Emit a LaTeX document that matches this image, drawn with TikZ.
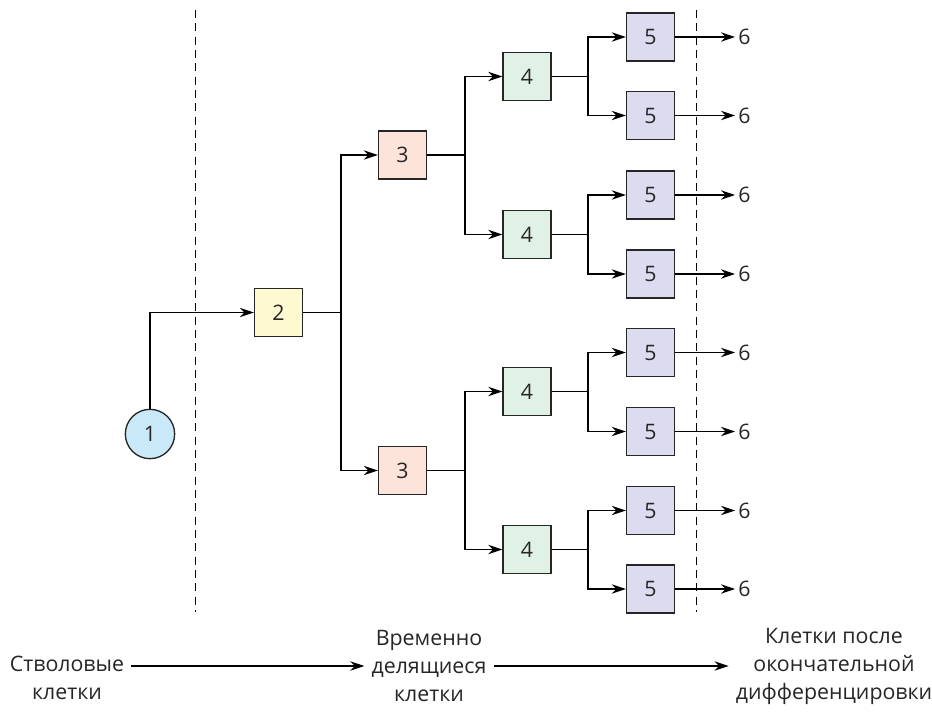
\documentclass[tikz,border=0pt]{standalone}
\usepackage{fontspec}
\setmainfont{Open Sans}
\usetikzlibrary{positioning}
\usetikzlibrary{arrows.meta}

\definecolor{stemblue}{HTML}{C9E9F8}
\definecolor{cellyellow}{HTML}{FEF9D0}
\definecolor{cellpeach}{HTML}{FDE4DA}
\definecolor{cellmint}{HTML}{E0F1E6}
\definecolor{celllilac}{HTML}{DDDBF0}

\begin{document}
\begin{tikzpicture}[x=0.75pt,y=-0.75pt,
    >={Stealth[length=10.5pt,width=7pt]},
    line width=1pt, font=\fontsize{16}{21}\selectfont]
    \tikzset{cell/.style = {rectangle, draw=black!85, minimum size=36pt,
                           inner sep=0pt, text=black!85}}
    \tikzset{stem/.style = {circle, draw=black!85, fill=stemblue,
                           minimum size=37pt, inner sep=0pt, text=black!85}}
    \tikzset{div2/.style = {cell, fill=cellyellow}}
    \tikzset{div3/.style = {cell, fill=cellpeach}}
    \tikzset{div4/.style = {cell, fill=cellmint}}
    \tikzset{div5/.style = {cell, fill=celllilac}}
    \tikzset{final/.style = {anchor=west, inner sep=2pt, text=black!85}}
    \tikzset{stage/.style = {align=center, inner sep=5pt, text=black!85}}
    \tikzset{border/.style = {dashed, line width=0.75pt, dash pattern=on 6pt off 4pt}}

    \useasboundingbox (0,0) rectangle (932,716);

    % dividing lines
    \draw[border] (195,10) -- (195,612);
    \draw[border] (696,10) -- (696,612);

    \node (C1) [stem] at (150,434) {1};
    \node (C2) [div2] at (278.5,312.5) {2};
    \node (C3a) [div3] at (402.5,155) {3};
    \node (C3b) [div3] at (402.5,470.5) {3};
    \node (C4a) [div4] at (527,76.5) {4};
    \node (C4b) [div4] at (527,234.5) {4};
    \node (C4c) [div4] at (527,391.5) {4};
    \node (C4d) [div4] at (527,549.5) {4};

    % split points
    \coordinate (S2) at (341,312.5);
    \coordinate (S3a) at (465,155);
    \coordinate (S3b) at (465,470.5);

    \draw[->] (C1) |- (C2);
    \draw (C2) -- (S2);
    \draw[->] (S2) |- (C3a);
    \draw[->] (S2) |- (C3b);
    \draw (C3a) -- (S3a);
    \draw (C3b) -- (S3b);
    \draw[->] (S3a) |- (C4a);
    \draw[->] (S3a) |- (C4b);
    \draw[->] (S3b) |- (C4c);
    \draw[->] (S3b) |- (C4d);

    % last division and differentiated cells
    \foreach \i/\up/\dn in {a/37/115.5, b/195/274, c/352.5/431.5, d/510.5/589}{
        \coordinate (S4\i) at (588,0 |- C4\i);
        \draw (C4\i) -- (S4\i);
        \node (C5\i u) [div5] at (650.5,\up) {5};
        \node (C5\i d) [div5] at (650.5,\dn) {5};
        \draw[->] (S4\i) |- (C5\i u);
        \draw[->] (S4\i) |- (C5\i d);
        \node (C6\i u) [final] at (735,\up) {6};
        \node (C6\i d) [final] at (735,\dn) {6};
        \draw[->] (C5\i u) -- (C6\i u);
        \draw[->] (C5\i d) -- (C6\i d);
    }

    % stages
    \node (L1) [stage] at (67,678) {Стволовые\\клетки};
    \node (L2) [stage] at (429,666) {Временно\\делящиеся\\клетки};
    \node (L3) [stage] at (834,666) {Клетки после\\окончательной\\дифференцировки};
    \draw[->] (L1.east |- L2.west) -- (L2.west);
    \draw[->] (L2.east) -- (L3.west);

\end{tikzpicture}
\end{document}
